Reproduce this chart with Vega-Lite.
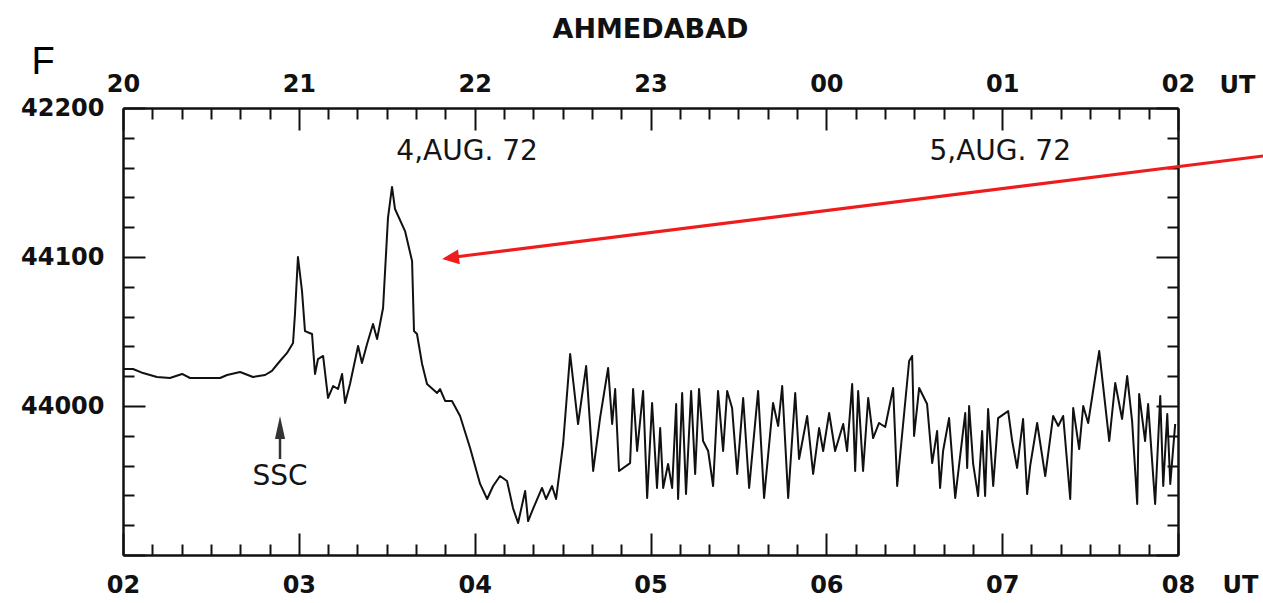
{
  "$schema": "https://vega.github.io/schema/vega-lite/v6.json",
  "width": 1055,
  "height": 447,
  "autosize": {"type": "none"},
  "padding": {"left": 123, "top": 108, "right": 85, "bottom": 48},
  "background": "white",
  "title": {"text": "AHMEDABAD", "anchor": "middle", "frame": "group", "font": "DejaVu Sans", "fontSize": 27, "fontWeight": "bold", "color": "#111", "offset": 0},
  "config": {
    "view": {"stroke": null},
    "axis": {"grid": false, "domainColor": "#111", "domainWidth": 2.5, "tickColor": "#111", "tickWidth": 2,
      "labelFont": "DejaVu Sans", "labelFontSize": 24, "labelFontWeight": "bold", "labelColor": "#111",
      "labelOverlap": false, "labelFlush": false, "labelBound": false,
      "titleFont": "DejaVu Sans", "titleFontSize": 24, "titleFontWeight": "bold", "titleColor": "#111"}
  },
  "datasets": {
    "trace": [
      {"ut": 2.000, "nT": 44024.8}, {"ut": 2.011, "nT": 44024.8}, {"ut": 2.057, "nT": 44024.8}, {"ut": 2.114, "nT": 44022.1},
      {"ut": 2.193, "nT": 44019.5}, {"ut": 2.267, "nT": 44018.8}, {"ut": 2.336, "nT": 44021.5}, {"ut": 2.381, "nT": 44018.8},
      {"ut": 2.478, "nT": 44018.8}, {"ut": 2.552, "nT": 44018.8}, {"ut": 2.592, "nT": 44020.8}, {"ut": 2.666, "nT": 44022.8},
      {"ut": 2.739, "nT": 44019.5}, {"ut": 2.808, "nT": 44020.8}, {"ut": 2.847, "nT": 44023.5}, {"ut": 2.893, "nT": 44030.2},
      {"ut": 2.933, "nT": 44035.6}, {"ut": 2.967, "nT": 44042.3}, {"ut": 2.978, "nT": 44061.7}, {"ut": 2.995, "nT": 44100.0},
      {"ut": 3.018, "nT": 44077.2}, {"ut": 3.035, "nT": 44050.3}, {"ut": 3.075, "nT": 44048.3}, {"ut": 3.092, "nT": 44021.5},
      {"ut": 3.109, "nT": 44031.5}, {"ut": 3.138, "nT": 44033.6}, {"ut": 3.166, "nT": 44005.4}, {"ut": 3.195, "nT": 44013.4},
      {"ut": 3.223, "nT": 44011.4}, {"ut": 3.246, "nT": 44021.5}, {"ut": 3.263, "nT": 44002.0}, {"ut": 3.291, "nT": 44014.8},
      {"ut": 3.337, "nT": 44040.3}, {"ut": 3.359, "nT": 44028.9}, {"ut": 3.388, "nT": 44041.6}, {"ut": 3.422, "nT": 44055.0},
      {"ut": 3.445, "nT": 44045.0}, {"ut": 3.479, "nT": 44065.8}, {"ut": 3.507, "nT": 44126.2}, {"ut": 3.530, "nT": 44147.0},
      {"ut": 3.547, "nT": 44132.2}, {"ut": 3.604, "nT": 44117.4}, {"ut": 3.644, "nT": 44097.3}, {"ut": 3.655, "nT": 44050.3},
      {"ut": 3.672, "nT": 44048.3}, {"ut": 3.701, "nT": 44028.2}, {"ut": 3.729, "nT": 44014.8}, {"ut": 3.786, "nT": 44008.7},
      {"ut": 3.803, "nT": 44011.4}, {"ut": 3.832, "nT": 44003.4}, {"ut": 3.871, "nT": 44003.4}, {"ut": 3.917, "nT": 43993.3},
      {"ut": 3.974, "nT": 43971.8}, {"ut": 4.031, "nT": 43947.7}, {"ut": 4.071, "nT": 43937.6}, {"ut": 4.105, "nT": 43946.3},
      {"ut": 4.144, "nT": 43953.0}, {"ut": 4.184, "nT": 43949.7}, {"ut": 4.218, "nT": 43931.5}, {"ut": 4.247, "nT": 43921.5},
      {"ut": 4.287, "nT": 43943.0}, {"ut": 4.304, "nT": 43922.8}, {"ut": 4.332, "nT": 43930.9}, {"ut": 4.383, "nT": 43945.0},
      {"ut": 4.406, "nT": 43937.6}, {"ut": 4.440, "nT": 43946.3}, {"ut": 4.463, "nT": 43937.6}, {"ut": 4.503, "nT": 43974.5},
      {"ut": 4.543, "nT": 44034.9}, {"ut": 4.588, "nT": 43987.9}, {"ut": 4.634, "nT": 44026.8}, {"ut": 4.674, "nT": 43956.4},
      {"ut": 4.713, "nT": 43991.9}, {"ut": 4.759, "nT": 44025.5}, {"ut": 4.782, "nT": 43987.9}, {"ut": 4.799, "nT": 44011.4},
      {"ut": 4.821, "nT": 43956.4}, {"ut": 4.884, "nT": 43961.7}, {"ut": 4.901, "nT": 44011.4}, {"ut": 4.924, "nT": 43969.8},
      {"ut": 4.958, "nT": 44010.1}, {"ut": 4.981, "nT": 43938.3}, {"ut": 5.009, "nT": 44002.0}, {"ut": 5.037, "nT": 43945.0},
      {"ut": 5.055, "nT": 43985.2}, {"ut": 5.072, "nT": 43945.0}, {"ut": 5.100, "nT": 43961.1}, {"ut": 5.123, "nT": 43945.0},
      {"ut": 5.146, "nT": 44001.3}, {"ut": 5.157, "nT": 43937.6}, {"ut": 5.180, "nT": 44008.7}, {"ut": 5.202, "nT": 43940.9},
      {"ut": 5.231, "nT": 44010.1}, {"ut": 5.254, "nT": 43954.4}, {"ut": 5.276, "nT": 44011.4}, {"ut": 5.299, "nT": 43976.5},
      {"ut": 5.328, "nT": 43969.8}, {"ut": 5.356, "nT": 43946.3}, {"ut": 5.384, "nT": 44010.1}, {"ut": 5.413, "nT": 43969.8},
      {"ut": 5.436, "nT": 44010.1}, {"ut": 5.464, "nT": 43998.7}, {"ut": 5.493, "nT": 43954.4}, {"ut": 5.527, "nT": 44005.4},
      {"ut": 5.561, "nT": 43945.0}, {"ut": 5.612, "nT": 44010.1}, {"ut": 5.646, "nT": 43938.3}, {"ut": 5.697, "nT": 44002.0},
      {"ut": 5.726, "nT": 43986.6}, {"ut": 5.749, "nT": 44013.4}, {"ut": 5.783, "nT": 43938.3}, {"ut": 5.823, "nT": 44008.7},
      {"ut": 5.845, "nT": 43964.4}, {"ut": 5.891, "nT": 43993.3}, {"ut": 5.925, "nT": 43954.4}, {"ut": 5.959, "nT": 43985.2},
      {"ut": 5.982, "nT": 43969.8}, {"ut": 6.016, "nT": 43995.3}, {"ut": 6.050, "nT": 43969.8}, {"ut": 6.096, "nT": 43987.9},
      {"ut": 6.118, "nT": 43969.8}, {"ut": 6.147, "nT": 44014.8}, {"ut": 6.164, "nT": 43956.4}, {"ut": 6.181, "nT": 44010.1},
      {"ut": 6.209, "nT": 43956.4}, {"ut": 6.238, "nT": 44005.4}, {"ut": 6.266, "nT": 43978.5}, {"ut": 6.300, "nT": 43988.6},
      {"ut": 6.335, "nT": 43985.9}, {"ut": 6.380, "nT": 44012.1}, {"ut": 6.403, "nT": 43946.3}, {"ut": 6.471, "nT": 44030.2},
      {"ut": 6.488, "nT": 44033.6}, {"ut": 6.499, "nT": 43979.9}, {"ut": 6.528, "nT": 44012.1}, {"ut": 6.573, "nT": 44001.3},
      {"ut": 6.602, "nT": 43961.7}, {"ut": 6.630, "nT": 43983.2}, {"ut": 6.647, "nT": 43945.0}, {"ut": 6.664, "nT": 43969.8},
      {"ut": 6.698, "nT": 43991.9}, {"ut": 6.733, "nT": 43938.3}, {"ut": 6.790, "nT": 43995.3}, {"ut": 6.801, "nT": 43958.4},
      {"ut": 6.812, "nT": 44000.0}, {"ut": 6.835, "nT": 43961.1}, {"ut": 6.863, "nT": 43939.6}, {"ut": 6.886, "nT": 43983.2},
      {"ut": 6.903, "nT": 43939.6}, {"ut": 6.920, "nT": 43998.0}, {"ut": 6.949, "nT": 43946.3}, {"ut": 6.977, "nT": 43991.9},
      {"ut": 7.034, "nT": 43996.6}, {"ut": 7.057, "nT": 43976.5}, {"ut": 7.085, "nT": 43958.4}, {"ut": 7.119, "nT": 43991.3},
      {"ut": 7.142, "nT": 43940.9}, {"ut": 7.159, "nT": 43959.7}, {"ut": 7.199, "nT": 43988.6}, {"ut": 7.245, "nT": 43953.0},
      {"ut": 7.290, "nT": 43993.3}, {"ut": 7.319, "nT": 43986.6}, {"ut": 7.347, "nT": 43993.3}, {"ut": 7.387, "nT": 43937.6},
      {"ut": 7.404, "nT": 43998.7}, {"ut": 7.438, "nT": 43971.1}, {"ut": 7.461, "nT": 44000.0}, {"ut": 7.489, "nT": 43988.6},
      {"ut": 7.552, "nT": 44036.9}, {"ut": 7.609, "nT": 43976.5}, {"ut": 7.643, "nT": 44015.4}, {"ut": 7.682, "nT": 43991.3},
      {"ut": 7.711, "nT": 44020.1}, {"ut": 7.739, "nT": 43989.9}, {"ut": 7.768, "nT": 43934.2}, {"ut": 7.779, "nT": 44008.1},
      {"ut": 7.813, "nT": 43976.5}, {"ut": 7.830, "nT": 44001.3}, {"ut": 7.870, "nT": 43934.2}, {"ut": 7.899, "nT": 44006.7},
      {"ut": 7.916, "nT": 43946.3}, {"ut": 7.939, "nT": 43994.6}, {"ut": 7.956, "nT": 43947.7}, {"ut": 7.984, "nT": 43987.9}
    ],
    "notes": [
      {"ut": 3.957, "nT": 44170.5, "text": "4,AUG. 72"},
      {"ut": 6.989, "nT": 44170.5, "text": "5,AUG. 72"},
      {"ut": 2.893, "nT": 43952.3, "text": "SSC"}
    ],
    "panel": [
      {"ut": 1.545, "nT": 44230.2, "text": "F"}
    ],
    "ssc_arrow": [
      {"ut": 2.893, "tip": 43993.3, "neck": 43979.0, "tail": 43964.4}
    ],
    "pointer_line": [
      {"ut": 8.485, "nT": 44167.8},
      {"ut": 3.888, "nT": 44100.0}
    ],
    "pointer_head": [
      {"ut": 3.8146, "nT": 44098.66}
    ]
  },
  "layer": [
    {
      "data": {"name": "trace"},
      "mark": {"type": "line", "color": "#111", "strokeWidth": 2, "strokeJoin": "round"},
      "encoding": {
        "x": {"field": "ut", "type": "quantitative", "scale": {"domain": [2, 8], "nice": false, "zero": false},
          "axis": {"orient": "bottom",
            "values": [2, 2.1667, 2.3333, 2.5, 2.6667, 2.8333, 3, 3.1667, 3.3333, 3.5, 3.6667, 3.8333, 4, 4.1667, 4.3333, 4.5, 4.6667, 4.8333, 5, 5.1667, 5.3333, 5.5, 5.6667, 5.8333, 6, 6.1667, 6.3333, 6.5, 6.6667, 6.8333, 7, 7.1667, 7.3333, 7.5, 7.6667, 7.8333, 8],
            "tickSize": {"condition": {"test": "abs(datum.value - round(datum.value)) < 0.01", "value": -22}, "value": -11},
            "labelPadding": 40,
            "labelExpr": "abs(datum.value - round(datum.value)) < 0.01 ? (round(datum.value) < 10 ? '0' : '') + round(datum.value) : ''",
            "title": "UT", "titleX": 1117, "titleY": 30, "titleBaseline": "middle", "titleAlign": "center"}},
        "y": {"field": "nT", "type": "quantitative", "scale": {"domain": [43900, 44200], "nice": false, "zero": false},
          "axis": {"orient": "left",
            "values": [43900, 43920, 43940, 43960, 43980, 44000, 44020, 44040, 44060, 44080, 44100, 44120, 44140, 44160, 44180, 44200],
            "tickSize": {"condition": {"test": "datum.value % 100 == 0", "value": -22}, "value": -11},
            "labelPadding": 41,
            "labelExpr": "datum.value == 44200 ? '42200' : (datum.value == 44100 || datum.value == 44000) ? datum.value + '' : ''",
            "title": null}}
      }
    },
    {
      "data": {"name": "notes"},
      "mark": {"type": "text", "font": "DejaVu Sans", "fontSize": 28, "color": "#151515", "align": "center", "baseline": "middle"},
      "encoding": {
        "x": {"field": "ut", "type": "quantitative", "scale": {"domain": [2, 8], "nice": false, "zero": false},
          "axis": {"orient": "top",
            "values": [2, 2.1667, 2.3333, 2.5, 2.6667, 2.8333, 3, 3.1667, 3.3333, 3.5, 3.6667, 3.8333, 4, 4.1667, 4.3333, 4.5, 4.6667, 4.8333, 5, 5.1667, 5.3333, 5.5, 5.6667, 5.8333, 6, 6.1667, 6.3333, 6.5, 6.6667, 6.8333, 7, 7.1667, 7.3333, 7.5, 7.6667, 7.8333, 8],
            "tickSize": {"condition": {"test": "abs(datum.value - round(datum.value)) < 0.01", "value": -22}, "value": -11},
            "labelPadding": 34,
            "labelExpr": "abs(datum.value - round(datum.value)) < 0.01 ? (((round(datum.value) + 18) % 24) < 10 ? '0' : '') + ((round(datum.value) + 18) % 24) : ''",
            "title": "UT", "titleX": 1114, "titleY": -23, "titleBaseline": "middle", "titleAlign": "center"}},
        "y": {"field": "nT", "type": "quantitative", "scale": {"domain": [43900, 44200], "nice": false, "zero": false},
          "axis": {"orient": "right",
            "values": [43900, 43920, 43940, 43960, 43980, 44000, 44020, 44040, 44060, 44080, 44100, 44120, 44140, 44160, 44180, 44200],
            "tickSize": {"condition": {"test": "datum.value % 100 == 0", "value": -22}, "value": -11},
            "labels": false, "title": null}},
        "text": {"field": "text"}
      }
    },
    {
      "data": {"name": "panel"},
      "mark": {"type": "text", "font": "Liberation Sans", "fontSize": 38, "color": "#000", "align": "center", "baseline": "middle"},
      "encoding": {
        "x": {"field": "ut", "type": "quantitative", "axis": null},
        "y": {"field": "nT", "type": "quantitative", "axis": null},
        "text": {"field": "text"}
      }
    },
    {
      "data": {"name": "ssc_arrow"},
      "mark": {"type": "rule", "color": "#333", "strokeWidth": 2.5},
      "encoding": {
        "x": {"field": "ut", "type": "quantitative", "axis": null},
        "y": {"field": "neck", "type": "quantitative", "axis": null},
        "y2": {"field": "tail"}
      }
    },
    {
      "data": {"name": "ssc_arrow"},
      "mark": {"type": "point", "shape": "M0,0L0.22,1L-0.22,1Z", "size": 2116, "filled": true, "color": "#333", "opacity": 1},
      "encoding": {
        "x": {"field": "ut", "type": "quantitative", "axis": null},
        "y": {"field": "tip", "type": "quantitative", "axis": null}
      }
    },
    {
      "data": {"name": "pointer_line"},
      "mark": {"type": "line", "color": "#ee1c1c", "strokeWidth": 3},
      "encoding": {
        "x": {"field": "ut", "type": "quantitative", "axis": null},
        "y": {"field": "nT", "type": "quantitative", "axis": null}
      }
    },
    {
      "data": {"name": "pointer_head"},
      "mark": {"type": "point", "shape": "M0,0L1,-0.44L1,0.44Z", "size": 1156, "filled": true, "color": "#ee1c1c", "opacity": 1, "angle": 352.85},
      "encoding": {
        "x": {"field": "ut", "type": "quantitative", "axis": null},
        "y": {"field": "nT", "type": "quantitative", "axis": null}
      }
    }
  ],
  "resolve": {"axis": {"x": "independent", "y": "independent"}}
}
